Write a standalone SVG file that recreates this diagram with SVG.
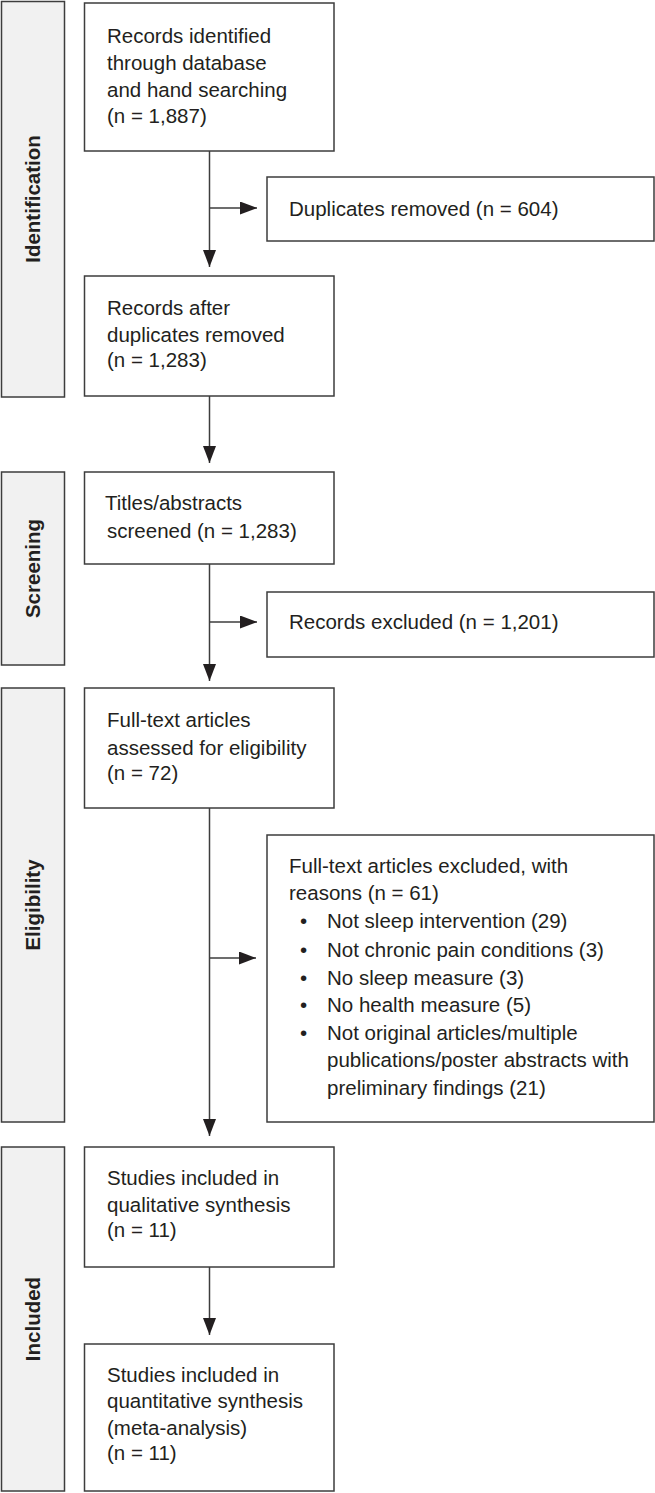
<svg xmlns="http://www.w3.org/2000/svg" width="655" height="1493" viewBox="0 0 655 1493">
<style>
.bar{fill:#f1f1f1;stroke:#3d3d3d;stroke-width:1.5}
.box{fill:#ffffff;stroke:#3d3d3d;stroke-width:1.5}
.t{font-family:"Liberation Sans",Arial,sans-serif;font-size:20.5px;fill:#231f20}
.lab{font-family:"Liberation Sans",Arial,sans-serif;font-size:20.5px;font-weight:bold;fill:#231f20;text-anchor:middle;dominant-baseline:central}
.c{fill:none;stroke:#3d3d3d;stroke-width:1.5}
</style>
<defs>
<marker id="ah" viewBox="0 0 17 13" refX="17" refY="6.5" markerWidth="17" markerHeight="13" markerUnits="userSpaceOnUse" orient="auto">
<path d="M0,0 L17,6.5 L0,13 Z" fill="#231f20"/>
</marker>
</defs>
<g id="stage-identification">
<rect class="bar" x="1.5" y="1.5" width="63" height="395.5"/>
<text class="lab" transform="translate(32,199) rotate(-90)">Identification</text>
</g>
<g id="stage-screening">
<rect class="bar" x="1.5" y="472" width="63" height="193"/>
<text class="lab" transform="translate(32,568.5) rotate(-90)">Screening</text>
</g>
<g id="stage-eligibility">
<rect class="bar" x="1.5" y="688" width="63" height="434"/>
<text class="lab" transform="translate(32,905) rotate(-90)">Eligibility</text>
</g>
<g id="stage-included">
<rect class="bar" x="1.5" y="1147" width="63" height="344"/>
<text class="lab" transform="translate(32,1319) rotate(-90)">Included</text>
</g>
<g id="connectors">
<line class="c" x1="209.5" y1="151" x2="209.5" y2="267" marker-end="url(#ah)"/>
<line class="c" x1="209.5" y1="208" x2="257" y2="208" marker-end="url(#ah)"/>
<line class="c" x1="209.5" y1="396" x2="209.5" y2="463" marker-end="url(#ah)"/>
<line class="c" x1="209.5" y1="564" x2="209.5" y2="681" marker-end="url(#ah)"/>
<line class="c" x1="209.5" y1="622" x2="257" y2="622" marker-end="url(#ah)"/>
<line class="c" x1="209.5" y1="808" x2="209.5" y2="1136" marker-end="url(#ah)"/>
<line class="c" x1="209.5" y1="958" x2="256" y2="958" marker-end="url(#ah)"/>
<line class="c" x1="209.5" y1="1267" x2="209.5" y2="1335" marker-end="url(#ah)"/>
</g>
<g id="records-identified">
<rect class="box" x="84.5" y="3" width="249.5" height="148"/>
<text class="t" x="107" y="43">Records identified</text>
<text class="t" x="107" y="70">through database</text>
<text class="t" x="107" y="97">and hand searching</text>
<text class="t" x="107" y="123">(n = 1,887)</text>
</g>
<g id="duplicates-removed">
<rect class="box" x="267" y="177" width="387" height="64"/>
<text class="t" x="289" y="216">Duplicates removed (n = 604)</text>
</g>
<g id="records-after-duplicates">
<rect class="box" x="84.5" y="276" width="249.5" height="120"/>
<text class="t" x="107" y="315">Records after</text>
<text class="t" x="107" y="342">duplicates removed</text>
<text class="t" x="107" y="367">(n = 1,283)</text>
</g>
<g id="titles-screened">
<rect class="box" x="84.5" y="472" width="249.5" height="92"/>
<text class="t" x="105" y="510">Titles/abstracts</text>
<text class="t" x="107" y="538">screened (n = 1,283)</text>
</g>
<g id="records-excluded">
<rect class="box" x="267" y="592" width="387" height="65"/>
<text class="t" x="289" y="629">Records excluded (n = 1,201)</text>
</g>
<g id="full-text-assessed">
<rect class="box" x="84.5" y="688" width="249.5" height="120"/>
<text class="t" x="107" y="727">Full-text articles</text>
<text class="t" x="107" y="755">assessed for eligibility</text>
<text class="t" x="107" y="780">(n = 72)</text>
</g>
<g id="full-text-excluded">
<rect class="box" x="267" y="835" width="387" height="287"/>
<text class="t" x="289" y="873">Full-text articles excluded, with</text>
<text class="t" x="289" y="900">reasons (n = 61)</text>
<text class="t" x="300" y="928">•</text><text class="t" x="327" y="928">Not sleep intervention (29)</text>
<text class="t" x="300" y="957">•</text><text class="t" x="327" y="957">Not chronic pain conditions (3)</text>
<text class="t" x="300" y="985">•</text><text class="t" x="327" y="985">No sleep measure (3)</text>
<text class="t" x="300" y="1012">•</text><text class="t" x="327" y="1012">No health measure (5)</text>
<text class="t" x="300" y="1040">•</text><text class="t" x="327" y="1040">Not original articles/multiple</text>
<text class="t" x="327" y="1067">publications/poster abstracts with</text>
<text class="t" x="327" y="1095">preliminary findings (21)</text>
</g>
<g id="qualitative-synthesis">
<rect class="box" x="84.5" y="1147" width="249.5" height="120"/>
<text class="t" x="107" y="1185">Studies included in</text>
<text class="t" x="107" y="1212">qualitative synthesis</text>
<text class="t" x="107" y="1237">(n = 11)</text>
</g>
<g id="quantitative-synthesis">
<rect class="box" x="84.5" y="1344" width="249.5" height="147"/>
<text class="t" x="107" y="1382">Studies included in</text>
<text class="t" x="107" y="1408">quantitative synthesis</text>
<text class="t" x="107" y="1435">(meta-analysis)</text>
<text class="t" x="107" y="1460">(n = 11)</text>
</g>
</svg>
